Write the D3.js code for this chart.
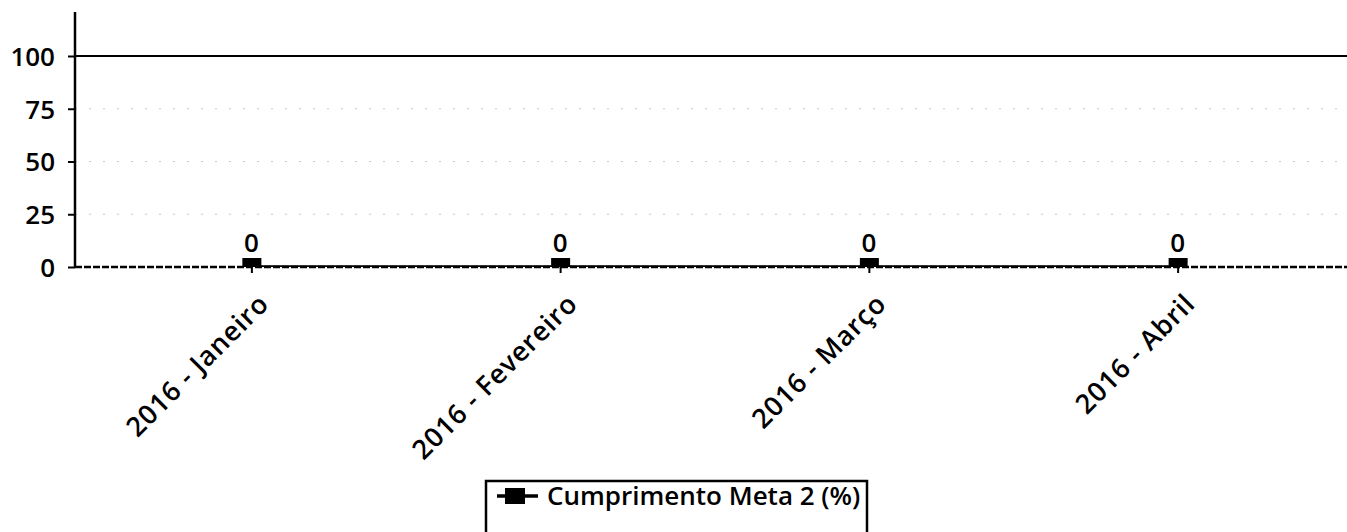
<!DOCTYPE html>
<html>
<head>
<meta charset="utf-8">
<script src="https://cdn.jsdelivr.net/npm/d3@7/dist/d3.min.js"></script>
<style>
html, body { margin: 0; padding: 0; background: #fff; }
svg { display: block; font-family: "Open Sans", sans-serif; }
</style>
</head>
<body>
<svg id="chart" width="1347" height="532"></svg>
<script>
const categories = ["2016 - Janeiro", "2016 - Fevereiro", "2016 - Março", "2016 - Abril"];
const values = [0, 0, 0, 0];
const yTicks = [0, 25, 50, 75, 100];
const seriesName = "Cumprimento Meta 2 (%)";

const W = 1347, H = 532;
const left = 75, plotTop = 12, plotBottom = 267;
const FONT = "Open Sans, sans-serif";
const FS = 26;
const FW = 600;
const svg = d3.select("#chart");

const y = d3.scaleLinear().domain([0, 120]).range([plotBottom, plotBottom - 120 * 2.11]);
const x = d3.scalePoint().domain(categories).range([97, 1332]).padding(0.5);

svg.append("defs").append("clipPath").attr("id", "plotclip")
  .append("rect").attr("x", left).attr("y", 0).attr("width", W - left).attr("height", plotBottom);

// gridlines
svg.append("g").selectAll("line").data(yTicks.filter(d => d > 0 && d < 100)).join("line")
  .attr("x1", left).attr("x2", W).attr("y1", d => y(d)).attr("y2", d => y(d))
  .attr("stroke", "#c8c8c8").attr("stroke-width", 1).attr("stroke-dasharray", "2,12");
svg.append("line").attr("x1", left).attr("x2", W).attr("y1", y(100)).attr("y2", y(100))
  .attr("stroke", "#000").attr("stroke-width", 2);

// y axis
const yAxis = d3.axisLeft(y).tickValues(yTicks).tickSize(7).tickPadding(13);
const gy = svg.append("g").attr("transform", `translate(${left},0)`).call(yAxis);
gy.select(".domain").remove();
gy.selectAll(".tick line").attr("stroke", "#000").attr("stroke-width", 2);
gy.selectAll("text").attr("font-size", FS).attr("font-weight", FW).attr("fill", "#000")
  .attr("font-family", FONT).attr("dy", "0.36em");
svg.append("line").attr("x1", left).attr("x2", left).attr("y1", plotTop).attr("y2", plotBottom + 1)
  .attr("stroke", "#000").attr("stroke-width", 2.5);

// x axis baseline
svg.append("line").attr("x1", left).attr("x2", W).attr("y1", plotBottom).attr("y2", plotBottom)
  .attr("stroke", "#000").attr("stroke-width", 2.5).attr("stroke-dasharray", "7,2");

// x axis ticks & labels
const xAxis = d3.axisBottom(x).tickSize(6).tickPadding(6);
const gx = svg.append("g").attr("transform", `translate(0,${plotBottom})`).call(xAxis);
gx.select(".domain").remove();
gx.selectAll(".tick line").attr("stroke", "#000").attr("stroke-width", 2);
gx.selectAll("text")
  .attr("font-size", 27).attr("font-weight", FW).attr("fill", "#000").attr("font-family", FONT)
  .attr("letter-spacing", "0.8px")
  .attr("text-anchor", "end").attr("dy", null)
  .attr("transform", "translate(10,30) rotate(-45)");

// series line
const plot = svg.append("g").attr("clip-path", "url(#plotclip)");
plot.append("path").datum(values)
  .attr("fill", "none").attr("stroke", "#000").attr("stroke-width", 3.5)
  .attr("d", d3.line().x((d, i) => x(categories[i])).y(d => y(d)));
plot.selectAll("rect.marker").data(values).join("rect").attr("class", "marker")
  .attr("x", (d, i) => x(categories[i]) - 9).attr("y", d => y(d) - 9)
  .attr("width", 19).attr("height", 18).attr("fill", "#000");

// value labels
svg.append("g").selectAll("text").data(values).join("text")
  .attr("x", (d, i) => x(categories[i])).attr("y", d => y(d) - 15)
  .attr("text-anchor", "middle").attr("font-size", FS).attr("font-weight", FW)
  .attr("font-family", FONT).attr("fill", "#000")
  .text(d => d);

// legend
const lg = svg.append("g");
lg.append("rect").attr("x", 486).attr("y", 481).attr("width", 381).attr("height", 70)
  .attr("fill", "none").attr("stroke", "#000").attr("stroke-width", 2.5);
lg.append("line").attr("x1", 497).attr("x2", 538).attr("y1", 496).attr("y2", 496)
  .attr("stroke", "#000").attr("stroke-width", 3.5);
lg.append("rect").attr("x", 505).attr("y", 488).attr("width", 20).attr("height", 16).attr("fill", "#000");
lg.append("text").attr("x", 547).attr("y", 505).attr("font-size", FS).attr("font-weight", FW)
  .attr("font-family", FONT).attr("fill", "#000")
  .text(seriesName);
</script>
</body>
</html>
